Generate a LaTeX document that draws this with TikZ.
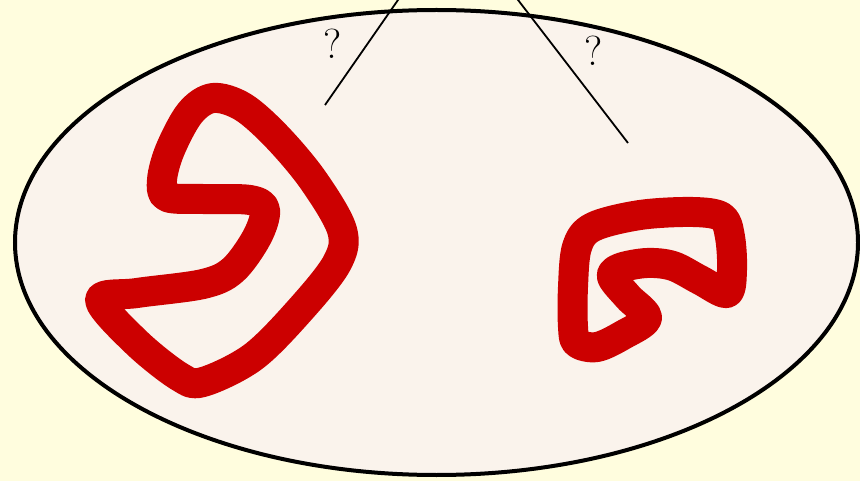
\documentclass[tikz,border=0pt]{standalone}
\usetikzlibrary{positioning}
\definecolor{bgyellow}{RGB}{255,253,222}
\definecolor{setfill}{RGB}{250,243,236}
\definecolor{loopred}{RGB}{204,0,0}

\begin{document}
\begin{tikzpicture}[x=1pt, y=-1pt,
  region/.style={draw=black, line width=4pt, fill=setfill},
  curve/.style={draw=loopred, line width=30pt, line join=round},
  ray/.style={draw=black, line width=1.8pt},
  qmark/.style={font=\fontsize{42}{42}\selectfont, inner sep=0pt}
]

% --- Background and set ---
\fill[bgyellow] (0,0) rectangle (860,481);
\useasboundingbox (0,0) rectangle (860,481);
\clip (0,0) rectangle (860,481);
\draw[region] (436.5,242.5) ellipse [x radius=421.5, y radius=232.5];

% --- Closed curves ---
\draw[curve] plot[smooth cycle, tension=0.55] coordinates {
  (213,98) (243,107) (277,137) (313,180) (342,230) (337,263)
  (300,310) (253,357) (203,382) (180,377) (137,343) (100,300)
  (137,293) (203,284) (233,270) (257,237) (265,210) (250,200)
  (203,199) (167,197) (162,180) (170,150) (190,113)};
\draw[curve] plot[smooth cycle, tension=0.55] coordinates {
  (573,327) (573,287) (577,247) (593,227) (640,215) (693,212)
  (722,217) (730,237) (732,270) (727,293) (700,280) (673,266)
  (647,263) (620,268) (612,277) (628,297) (647,318) (623,335)
  (597,347) (577,343)};

% --- Rays from the point above ---
\coordinate (apex)  at (455,-82);
\coordinate (leftend)  at (325,105);
\coordinate (rightend) at (628,143);
\draw[ray] (apex) -- (leftend);
\draw[ray] (apex) -- (rightend);

\node[qmark] (qleft)  at (333,44) {?};
\node[qmark] (qright) at (594,51) {?};

\end{tikzpicture}
\end{document}
